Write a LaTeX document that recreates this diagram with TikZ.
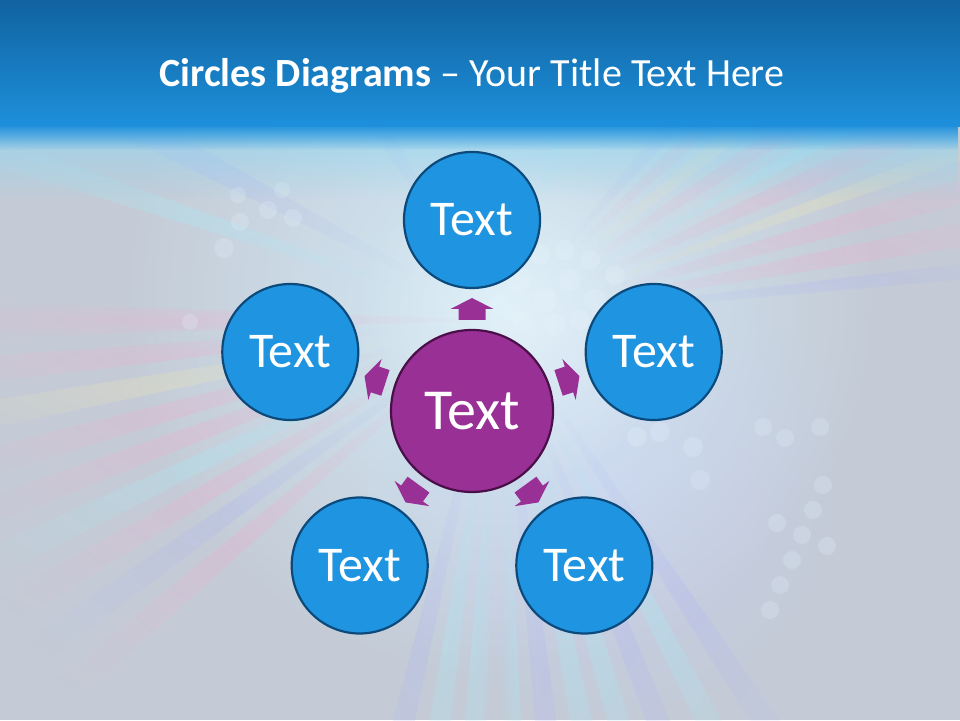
\documentclass[tikz,border=0pt]{standalone}
\usepackage{fontspec}
\setmainfont{Carlito}
\usetikzlibrary{fadings}
\definecolor{bg}{HTML}{C4CBD6}
\definecolor{glow}{HTML}{D4ECF8}
\definecolor{lav}{HTML}{C8CCF0}
\definecolor{topbar}{HTML}{1063A0}
\definecolor{barbot}{HTML}{1E90DC}
\definecolor{barglow}{HTML}{8ED6F2}
\definecolor{circfill}{HTML}{1F94E0}
\definecolor{circline}{HTML}{0C4A7C}
\definecolor{purp}{HTML}{993095}
\definecolor{purpline}{HTML}{4A0F48}
\definecolor{streakpink}{HTML}{F6A8CC}
\definecolor{streakcyan}{HTML}{A4F0FA}
\definecolor{streaklav}{HTML}{AEB6F6}
\definecolor{streakyel}{HTML}{F6EAB0}
\definecolor{bokehc}{HTML}{E8F6FF}
\tikzfading[name=softglow, inner color=transparent!0, outer color=transparent!100]
\tikzfading[name=rayfade, inner color=transparent!20, outer color=transparent!100]
\tikzset{
  outercirc/.style={circle, draw=circline, line width=2.2pt, fill=circfill, minimum size=136pt, inner sep=0pt, text=white, font=\fontsize{50}{54}\selectfont},
  centercirc/.style={circle, draw=purpline, line width=2.2pt, fill=purp, minimum size=162pt, inner sep=0pt, text=white, font=\fontsize{58}{62}\selectfont},
  blockarrow/.style={fill=purp},
  titletext/.style={text=white, font=\fontsize{40}{44}\selectfont, anchor=base},
  streak/.style={opacity=0.34, path fading=rayfade},
  bokeh/.style={fill=bokehc, opacity=0.22}
}
\begin{document}
\begin{tikzpicture}[x=1pt,y=1pt]
\useasboundingbox (0,0) rectangle (960,720);
% background
\fill[bg] (0,0) rectangle (960,720);
\fill[lav, path fading=softglow, opacity=0.7] (600,240) circle (260);
\fill[glow, path fading=softglow, opacity=0.95] (500,420) circle (380);
\fill[white, path fading=softglow, opacity=0.35] (520,400) circle (170);
% streaks
\foreach \a/\b/\c in {
  178/182/streakpink,184/187/streakpink,189/192/streakyel,194/197/streakpink,199/202/streakpink,204/207/streakcyan,209/212/streakpink,214/217/streaklav,219/222/streakpink,
  150/154/streaklav,160/163/streakcyan,
  14/17/streakpink,19/21/streakyel,23/26/streakpink,28/30/streakcyan,32/35/streakpink,37/40/streakyel,42/45/streakpink,47/50/streaklav,9/12/streakpink,5/7/streaklav,
  255/258/streaklav,260/263/streakcyan,265/268/streakcyan,270/273/streakcyan,275/278/streaklav,280/283/streakcyan,285/288/streakcyan,290/293/streaklav,296/299/streakcyan,302/305/streaklav,
  70/74/streakcyan,105/108/streakcyan,120/124/streaklav}{
  \fill[\c, streak] (500,400) -- ++(\a:650) arc[start angle=\a, end angle=\b, radius=650] -- cycle;
}
% bokeh dots
\foreach \x/\y/\r in {224/472/10,240/498/9,268/510/9,293/502/9,282/530/8,238/525/8,190/398/8,
  763/293/9,785/282/9,820/293/9,823/235/9,802/185/9,827/174/9,792/160/9,780/135/9,770/110/9,777/197/9,813/210/9,
  520/440/12,545/420/12,570/440/11,595/420/11,500/415/11,525/395/11,555/395/11,580/400/10,610/395/10,540/465/10,565/470/10,590/460/10,615/445/10,
  637/283/10,660/288/10,693/273/10,700/240/10}{
  \fill[bokeh] (\x,\y) circle (\r);
}
% title bar
\fill[barglow, path fading=south, opacity=0.7] (0,520) rectangle (960,593);
\fill[barbot, path fading=south, opacity=0.9] (0,570) rectangle (960,593);
\shade[top color=topbar, bottom color=barbot] (0,593) rectangle (960,720);
\node[titletext] (title) at (472,633) {\textbf{Circles Diagrams} – Your Title Text Here};
% arrows
\foreach \a in {90,162,18,234,306}{
  \begin{scope}[shift={(472,309)}, rotate=\a-90]
    \fill[blockarrow] (-13.5,91) -- (13.5,91) -- (13.5,102) -- (21.5,102) -- (0,113) -- (-21.5,102) -- (-13.5,102) -- cycle;
  \end{scope}
}
% circles
\node[centercirc] (c) at (472,309) {Text};
\node[outercirc] (top) at (472,500) {Text};
\node[outercirc] (left) at (290.3,368) {Text};
\node[outercirc] (right) at (653.7,368) {Text};
\node[outercirc] (bl) at (359.7,154.5) {Text};
\node[outercirc] (br) at (584.3,154.5) {Text};
\end{tikzpicture}
\end{document}
